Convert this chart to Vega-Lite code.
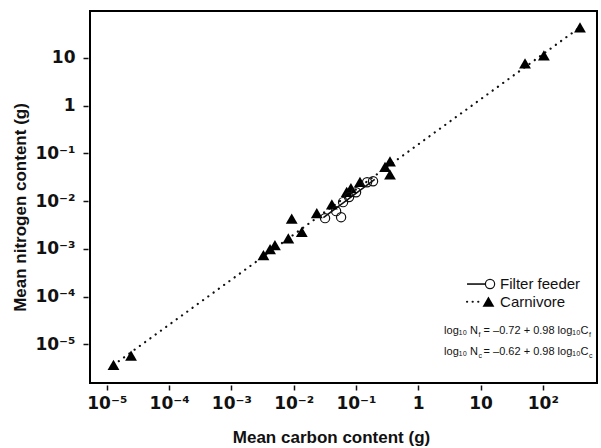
{
  "$schema": "https://vega.github.io/schema/vega-lite/v6.json",
  "width": 507,
  "height": 372,
  "autosize": {"type": "none"},
  "padding": {"left": 90, "top": 11, "right": 4, "bottom": 65},
  "background": "white",
  "config": {
    "view": {"stroke": "#000", "strokeWidth": 2},
    "font": "Liberation Sans",
    "axis": {
      "domain": false,
      "grid": false,
      "ticks": true,
      "tickColor": "#111",
      "tickSize": 5,
      "tickWidth": 1.5,
      "offset": 2,
      "labelFont": "DejaVu Sans",
      "labelFontWeight": "bold",
      "labelFontSize": 17,
      "labelColor": "#111",
      "titleFont": "Liberation Sans",
      "titleFontWeight": "bold",
      "titleFontSize": 17,
      "titleColor": "#111"
    }
  },
  "datasets": {
    "points": [
      {"group": "Carnivore", "C": 1.28e-5, "N": 3.7e-6},
      {"group": "Carnivore", "C": 2.45e-5, "N": 5.8e-6},
      {"group": "Carnivore", "C": 3.27e-3, "N": 7.4e-4},
      {"group": "Carnivore", "C": 4.18e-3, "N": 9.9e-4},
      {"group": "Carnivore", "C": 5.0e-3, "N": 1.19e-3},
      {"group": "Carnivore", "C": 8.2e-3, "N": 1.65e-3},
      {"group": "Carnivore", "C": 9.3e-3, "N": 4.3e-3},
      {"group": "Carnivore", "C": 0.0135, "N": 2.27e-3},
      {"group": "Carnivore", "C": 0.0235, "N": 5.6e-3},
      {"group": "Carnivore", "C": 0.041, "N": 8.5e-3},
      {"group": "Carnivore", "C": 0.071, "N": 0.0156},
      {"group": "Carnivore", "C": 0.083, "N": 0.0186},
      {"group": "Carnivore", "C": 0.116, "N": 0.0252},
      {"group": "Carnivore", "C": 0.293, "N": 0.052},
      {"group": "Carnivore", "C": 0.352, "N": 0.068},
      {"group": "Carnivore", "C": 0.352, "N": 0.036},
      {"group": "Carnivore", "C": 51.8, "N": 7.67},
      {"group": "Carnivore", "C": 104, "N": 11.3},
      {"group": "Carnivore", "C": 395, "N": 43.5},
      {"group": "Filter feeder", "C": 0.0319, "N": 4.39e-3},
      {"group": "Filter feeder", "C": 0.0577, "N": 4.6e-3},
      {"group": "Filter feeder", "C": 0.048, "N": 6.15e-3},
      {"group": "Filter feeder", "C": 0.0621, "N": 9.5e-3},
      {"group": "Filter feeder", "C": 0.0775, "N": 0.0121},
      {"group": "Filter feeder", "C": 0.1004, "N": 0.0153},
      {"group": "Filter feeder", "C": 0.1508, "N": 0.0248},
      {"group": "Filter feeder", "C": 0.188, "N": 0.026}
    ],
    "fits": [
      {"group": "Filter feeder", "C": 0.03, "N": 4.5e-3},
      {"group": "Filter feeder", "C": 0.2, "N": 0.0285},
      {"group": "Carnivore", "C": 1.28e-5, "N": 3.7e-6},
      {"group": "Carnivore", "C": 395, "N": 43.5}
    ],
    "one": [{"k": 1}]
  },
  "layer": [
    {
      "data": {"name": "fits"},
      "transform": [{"filter": "datum.group === 'Carnivore'"}],
      "mark": {"type": "line", "color": "#111", "strokeWidth": 2.2, "strokeDash": [0.1, 6.4], "strokeCap": "round"},
      "encoding": {
        "x": {
          "field": "C", "type": "quantitative",
          "scale": {"type": "log", "domain": [5.37e-6, 741], "nice": false, "zero": false},
          "axis": {
            "title": "Mean carbon content (g)",
            "values": [1e-5, 1e-4, 1e-3, 1e-2, 1e-1, 1, 10, 100],
            "labelExpr": "datum.value >= 100 ? '10²' : datum.value >= 10 ? '10' : datum.value >= 1 ? '1' : '10⁻' + ['','¹','²','³','⁴','⁵'][round(-log(datum.value)/LN10)]",
            "labelPadding": 5,
            "titlePadding": 18,
            "titleX": 241
          }
        },
        "y": {
          "field": "N", "type": "quantitative",
          "scale": {"type": "log", "domain": [1.55e-6, 95.5], "nice": false, "zero": false},
          "axis": {
            "title": "Mean nitrogen content (g)",
            "values": [1e-5, 1e-4, 1e-3, 1e-2, 1e-1, 1, 10],
            "labelExpr": "datum.value >= 10 ? '10' : datum.value >= 1 ? '1' : '10⁻' + ['','¹','²','³','⁴','⁵'][round(-log(datum.value)/LN10)]",
            "labelPadding": 8,
            "titlePadding": 5,
            "titleY": 196
          }
        }
      }
    },
    {
      "data": {"name": "fits"},
      "transform": [{"filter": "datum.group === 'Filter feeder'"}],
      "mark": {"type": "line", "color": "#111", "strokeWidth": 1.6},
      "encoding": {
        "x": {"field": "C", "type": "quantitative"},
        "y": {"field": "N", "type": "quantitative"}
      }
    },
    {
      "data": {"name": "points"},
      "transform": [{"filter": "datum.group === 'Carnivore'"}],
      "mark": {"type": "point", "shape": "triangle-up", "filled": true, "color": "#000", "opacity": 1, "size": 140},
      "encoding": {
        "x": {"field": "C", "type": "quantitative"},
        "y": {"field": "N", "type": "quantitative"}
      }
    },
    {
      "data": {"name": "points"},
      "transform": [{"filter": "datum.group === 'Filter feeder'"}],
      "mark": {"type": "point", "shape": "circle", "filled": false, "stroke": "#111", "strokeWidth": 1.2, "opacity": 1, "size": 85},
      "encoding": {
        "x": {"field": "C", "type": "quantitative"},
        "y": {"field": "N", "type": "quantitative"}
      }
    },
    {
      "data": {"name": "one"},
      "mark": {"type": "rule", "color": "#111", "strokeWidth": 1.6},
      "encoding": {
        "x": {"datum": 6.07, "type": "quantitative"},
        "x2": {"datum": 12.5},
        "y": {"datum": 1.83e-4, "type": "quantitative"}
      }
    },
    {
      "data": {"name": "one"},
      "mark": {"type": "point", "shape": "circle", "filled": true, "fill": "white", "stroke": "#111", "strokeWidth": 1.2, "opacity": 1, "size": 85},
      "encoding": {
        "x": {"datum": 14.2, "type": "quantitative"},
        "y": {"datum": 1.83e-4, "type": "quantitative"}
      }
    },
    {
      "data": {"name": "one"},
      "mark": {"type": "text", "text": "Filter feeder", "align": "left", "baseline": "middle", "fontSize": 15, "font": "Liberation Sans", "color": "#111"},
      "encoding": {
        "x": {"datum": 20.6, "type": "quantitative"},
        "y": {"datum": 1.83e-4, "type": "quantitative"}
      }
    },
    {
      "data": {"name": "one"},
      "mark": {"type": "rule", "color": "#111", "strokeWidth": 2.2, "strokeDash": [0.1, 5.5], "strokeCap": "round"},
      "encoding": {
        "x": {"datum": 6.07, "type": "quantitative"},
        "x2": {"datum": 11.0},
        "y": {"datum": 7.8e-5, "type": "quantitative"}
      }
    },
    {
      "data": {"name": "one"},
      "mark": {"type": "point", "shape": "triangle-up", "filled": true, "color": "#000", "opacity": 1, "size": 140},
      "encoding": {
        "x": {"datum": 13.4, "type": "quantitative"},
        "y": {"datum": 7.8e-5, "type": "quantitative"}
      }
    },
    {
      "data": {"name": "one"},
      "mark": {"type": "text", "text": "Carnivore", "align": "left", "baseline": "middle", "fontSize": 15, "font": "Liberation Sans", "color": "#111"},
      "encoding": {
        "x": {"datum": 20.6, "type": "quantitative"},
        "y": {"datum": 7.8e-5, "type": "quantitative"}
      }
    },
    {
      "data": {"name": "one"},
      "mark": {"type": "text", "text": "log₁₀ N", "align": "left", "baseline": "middle", "fontSize": 11, "font": "Liberation Sans", "color": "#111"},
      "encoding": {"x": {"datum": 2.6, "type": "quantitative"}, "y": {"datum": 1.9e-5, "type": "quantitative"}}
    },
    {
      "data": {"name": "one"},
      "mark": {"type": "text", "text": "f", "align": "left", "baseline": "middle", "fontSize": 7, "font": "Liberation Sans", "color": "#111", "dx": 34.5, "dy": 3.5},
      "encoding": {"x": {"datum": 2.6, "type": "quantitative"}, "y": {"datum": 1.9e-5, "type": "quantitative"}}
    },
    {
      "data": {"name": "one"},
      "mark": {"type": "text", "text": "= –0.72 + 0.98 log₁₀C", "align": "left", "baseline": "middle", "fontSize": 11, "font": "Liberation Sans", "color": "#111", "dx": 39.5},
      "encoding": {"x": {"datum": 2.6, "type": "quantitative"}, "y": {"datum": 1.9e-5, "type": "quantitative"}}
    },
    {
      "data": {"name": "one"},
      "mark": {"type": "text", "text": "f", "align": "left", "baseline": "middle", "fontSize": 7, "font": "Liberation Sans", "color": "#111", "dx": 145, "dy": 3.5},
      "encoding": {"x": {"datum": 2.6, "type": "quantitative"}, "y": {"datum": 1.9e-5, "type": "quantitative"}}
    },
    {
      "data": {"name": "one"},
      "mark": {"type": "text", "text": "log₁₀ N", "align": "left", "baseline": "middle", "fontSize": 11, "font": "Liberation Sans", "color": "#111"},
      "encoding": {"x": {"datum": 2.6, "type": "quantitative"}, "y": {"datum": 6.9e-6, "type": "quantitative"}}
    },
    {
      "data": {"name": "one"},
      "mark": {"type": "text", "text": "c", "align": "left", "baseline": "middle", "fontSize": 7, "font": "Liberation Sans", "color": "#111", "dx": 34.5, "dy": 3.5},
      "encoding": {"x": {"datum": 2.6, "type": "quantitative"}, "y": {"datum": 6.9e-6, "type": "quantitative"}}
    },
    {
      "data": {"name": "one"},
      "mark": {"type": "text", "text": "= –0.62 + 0.98 log₁₀C", "align": "left", "baseline": "middle", "fontSize": 11, "font": "Liberation Sans", "color": "#111", "dx": 39.5},
      "encoding": {"x": {"datum": 2.6, "type": "quantitative"}, "y": {"datum": 6.9e-6, "type": "quantitative"}}
    },
    {
      "data": {"name": "one"},
      "mark": {"type": "text", "text": "c", "align": "left", "baseline": "middle", "fontSize": 7, "font": "Liberation Sans", "color": "#111", "dx": 145, "dy": 3.5},
      "encoding": {"x": {"datum": 2.6, "type": "quantitative"}, "y": {"datum": 6.9e-6, "type": "quantitative"}}
    }
  ]
}
